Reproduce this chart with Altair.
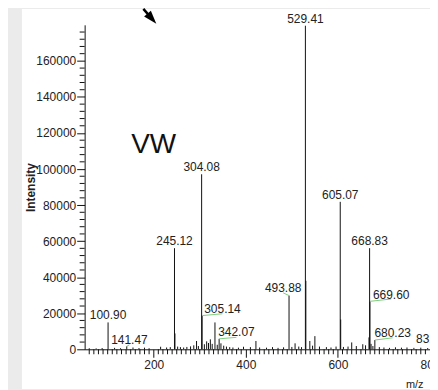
import altair as alt
import pandas as pd

# ---- data ----
peak_mz = [60, 75, 88, 100.90, 115, 128, 141.47, 155, 168, 180, 190, 215, 228, 236,
           245.12, 246.13, 252, 258, 265, 272, 280, 287, 293, 297, 304.08, 305.14,
           310, 315, 319, 323, 327, 333, 338, 342.07, 346, 352, 358, 365, 372, 384,
           395, 410, 422, 430, 445, 458, 470, 482, 493.88, 500, 507, 515, 521,
           529.41, 530.40, 539, 545, 550, 560, 575, 585, 596, 605.07, 606.08, 612,
           622, 630, 640, 654, 660, 667.5, 668.83, 669.60, 672, 676, 680.23, 690,
           700, 712, 725, 738, 750, 765, 780, 795]
peak_int = [600, 500, 700, 14900, 800, 600, 1650, 1000, 700, 900, 600, 1400, 1000, 1200,
            56100, 8800, 1500, 1200, 1000, 1300, 1600, 2200, 4600, 1800, 97100, 18700,
            2800, 4400, 3500, 5500, 3000, 14900, 2500, 5800, 3300, 2000, 1500, 1200, 1000, 900,
            1400, 1200, 4600, 1000, 900, 1200, 800, 1100, 29800, 1300, 3300, 1500, 1200,
            179500, 38000, 4600, 2000, 7300, 1500, 1200, 1000, 1500, 81800, 16500, 1300,
            1500, 3800, 1800, 2800, 2200, 6600, 56100, 26600, 3000, 1800, 5130, 1200,
            1000, 800, 1100, 900, 1000, 800, 900, 700]

top_label_text = ["100.90", "245.12", "304.08", "529.41", "605.07", "668.83"]
top_label_mz = [100.90, 245.12, 304.08, 529.41, 605.07, 668.83]
top_label_int = [14900, 56100, 97100, 179500, 81800, 56100]

side_label_text = ["141.47", "305.14", "342.07", "493.88", "669.60", "680.23", "831.48"]
side_label_mz = [147.3, 349.3, 379.6, 481.2, 715.7, 718.9, 809.3]
side_label_int = [2760, 20260, 7180, 31640, 28160, 6630, 3310]

leader_peak_mz = [141.47, 305.14, 342.07, 493.88, 669.60, 680.23]
leader_peak_int = [1650, 18700, 5800, 29800, 26600, 5130]
leader_end_mz = [147.3, 349.3, 379.6, 481.2, 715.7, 718.9]
leader_end_int = [2480, 19700, 6630, 31300, 27900, 6350]

x_major = [200, 400, 600, 800]
x_minor = [v for v in range(60, 801, 10) if v % 200 != 0]
y_major = list(range(0, 160001, 20000))
y_minor = [v for v in range(4000, 180000, 4000) if v % 20000 != 0]

annotation = "VW"
annotation_mz = [200]
annotation_int = [108700]

arrow_mz = [177.5]
arrow_int = [188830]
arrow_end_mz = [195]
arrow_end_int = [183700]

W, H = 347, 326
FONT = "Liberation Sans"

peaks = pd.DataFrame({"mz": peak_mz, "intensity": peak_int})
tops = pd.DataFrame({"t": top_label_text, "mz": top_label_mz, "intensity": top_label_int})
sides = pd.DataFrame({"t": side_label_text, "mz": side_label_mz, "intensity": side_label_int})
leaders = pd.DataFrame({"mz": leader_peak_mz, "intensity": leader_peak_int,
                        "mz2": leader_end_mz, "intensity2": leader_end_int})
note = pd.DataFrame({"t": [annotation], "mz": annotation_mz, "intensity": annotation_int})
arrow = pd.DataFrame({"mz": arrow_mz, "intensity": arrow_int,
                      "mz2": arrow_end_mz, "intensity2": arrow_end_int})
xminor = pd.DataFrame({"mz": x_minor})
yminor = pd.DataFrame({"intensity": y_minor})

xscale = alt.Scale(domain=[50, 800], nice=False, zero=False)
yscale = alt.Scale(domain=[0, 180000], nice=False)

xaxis = alt.Axis(
    values=x_major, format="d", title="m/z", tickSize=8,
    labelFont=FONT, labelFontSize=12, labelColor="#222", labelPadding=2,
    labelFlush=False, labelOverlap=False, grid=False,
    domainColor="#111", tickColor="#111", zindex=1,
    titleFont=FONT, titleFontSize=11, titleFontWeight="normal", titleColor="#222",
    titleX=340, titleY=38, titleAlign="right", titleBaseline="alphabetic", titleAnchor="end",
)
yaxis = alt.Axis(
    values=y_major, format="d", title="Intensity", tickSize=8,
    labelFont=FONT, labelFontSize=12, labelColor="#222", labelPadding=1,
    labelFlush=False, labelOverlap=False, grid=False,
    domainColor="#111", tickColor="#111", zindex=1,
    titleFont=FONT, titleFontSize=12, titleFontWeight="bold", titleColor="#222",
    titleX=-54, titleY=H / 2, titleAngle=270, titleAlign="center", titleBaseline="middle",
)

panel = alt.Chart(pd.DataFrame({"a": [0]})).mark_rect(color="white").encode(
    x=alt.value(-63), x2=alt.value(W), y=alt.value(-16), y2=alt.value(H + 40)
)

rules = alt.Chart(peaks).mark_rule(color="#111", strokeWidth=1).encode(
    x=alt.X("mz:Q", scale=xscale, axis=xaxis),
    y=alt.Y("intensity:Q", scale=yscale, axis=yaxis),
    y2=alt.datum(0),
)

xminor_ticks = alt.Chart(xminor).mark_rule(color="#111", strokeWidth=1).encode(
    x=alt.X("mz:Q", scale=xscale), y=alt.value(H), y2=alt.value(H + 5)
)
yminor_ticks = alt.Chart(yminor).mark_rule(color="#111", strokeWidth=1).encode(
    y=alt.Y("intensity:Q", scale=yscale), x=alt.value(-5), x2=alt.value(0)
)

top_text = alt.Chart(tops).mark_text(
    font=FONT, fontSize=12, color="#222", baseline="alphabetic", align="center", dy=-3
).encode(x=alt.X("mz:Q", scale=xscale), y=alt.Y("intensity:Q", scale=yscale), text="t:N")

side_text = alt.Chart(sides).mark_text(
    font=FONT, fontSize=12, color="#222", baseline="alphabetic", align="center"
).encode(x=alt.X("mz:Q", scale=xscale), y=alt.Y("intensity:Q", scale=yscale), text="t:N")

leader_lines = alt.Chart(leaders).mark_rule(color="#7ccf7c", strokeWidth=1).encode(
    x=alt.X("mz:Q", scale=xscale), y=alt.Y("intensity:Q", scale=yscale),
    x2="mz2:Q", y2="intensity2:Q",
)

note_text = alt.Chart(note).mark_text(
    font=FONT, fontSize=28, color="#111", baseline="alphabetic", align="center"
).encode(x=alt.X("mz:Q", scale=xscale), y=alt.Y("intensity:Q", scale=yscale), text="t:N")

arrow_shaft = alt.Chart(arrow).mark_rule(color="#000", strokeWidth=2.5).encode(
    x=alt.X("mz:Q", scale=xscale), y=alt.Y("intensity:Q", scale=yscale),
    x2="mz2:Q", y2="intensity2:Q",
)
arrow_head = alt.Chart(arrow).mark_point(
    shape="M0,-1L0.6,0.8L-0.6,0.8Z", filled=True, color="#000", opacity=1,
    size=225, angle=139
).encode(x=alt.X("mz2:Q", scale=xscale), y=alt.Y("intensity2:Q", scale=yscale))

chart = alt.layer(
    panel, rules, xminor_ticks, yminor_ticks, leader_lines, top_text, side_text,
    note_text, arrow_shaft, arrow_head
).properties(
    width=W, height=H,
    autosize=alt.AutoSizeParams(type="none"),
    padding={"left": 77, "top": 16, "right": 0, "bottom": 40},
    background="#ebebeb",
).configure_view(stroke=None).configure_axis(labelOverlap=False)

chart.save("out.html", embed_options={"renderer": "svg", "actions": False})
